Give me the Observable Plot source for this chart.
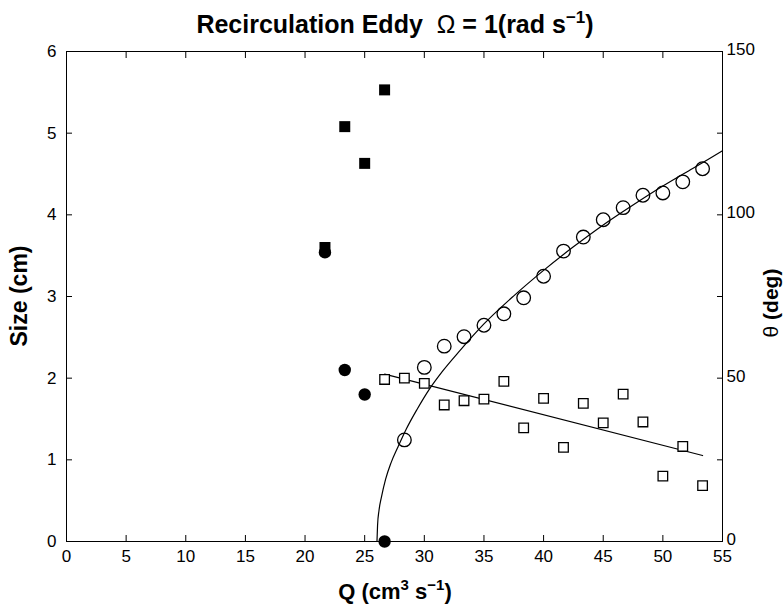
<!DOCTYPE html>
<html>
<head>
<meta charset="utf-8">
<script src="https://cdn.jsdelivr.net/npm/d3@7"></script>
<script src="https://cdn.jsdelivr.net/npm/@observablehq/plot@0.6"></script>
<style>
  html, body { margin: 0; padding: 0; background: #fff; }
  #chart svg { display: block; }
</style>
</head>
<body>
<div id="chart"></div>
<script>
// ---- data ----
// flow rate Q (cm^3 s^-1) for the filled (size) markers
const qFilled = [21.67, 23.33, 25.0, 26.67];
// filled squares: size (cm)
const sizeSquares = [3.60, 5.08, 4.63, 5.53];
// filled circles: size (cm)
const sizeCircles = [3.54, 2.10, 1.80, 0.00];

// open circles: angle theta (deg)
const qThetaCircles = [28.33, 30.0, 31.67, 33.33, 35.0, 36.67, 38.33, 40.0, 41.67, 43.33, 45.0, 46.67, 48.33, 50.0, 51.67, 53.33];
const thetaCircles = [31.1, 53.3, 59.8, 62.7, 66.2, 69.7, 74.6, 81.2, 88.9, 93.2, 98.5, 102.2, 106.0, 106.7, 110.1, 114.1];

// open squares: angle theta (deg)
const qThetaSquares = [26.67, 28.33, 30.0, 31.67, 33.33, 35.0, 36.67, 38.33, 40.0, 41.67, 43.33, 45.0, 46.67, 48.33, 50.0, 51.67, 53.33];
const thetaSquares = [49.6, 50.0, 48.4, 41.8, 43.1, 43.6, 49.0, 34.8, 43.8, 28.8, 42.3, 36.3, 45.1, 36.6, 20.0, 29.1, 17.1];

// fitted curve through the open circles
const qCurve = [26.03, 26.08, 26.2, 26.4, 26.75, 27.2, 27.8, 28.5, 29.4, 30.4, 31.5, 33.0, 35.0, 37.5, 40.0, 42.5, 45.0, 47.5, 50.0, 52.5, 55.0];
const thetaCurve = [0, 5.0, 9.5, 13.5, 19.0, 24.0, 29.0, 34.5, 40.5, 46.5, 52.0, 58.5, 66.6, 75.2, 83.0, 90.2, 96.9, 103.0, 108.8, 114.2, 119.6];

// axes
const xTicks = [0, 5, 10, 15, 20, 25, 30, 35, 40, 45, 50, 55];
const sizeTicks = [0, 1, 2, 3, 4, 5, 6];
const thetaTicks = [0, 25, 50, 75, 100, 125, 150];
const thetaLabels = [0, 50, 100, 150];
const sizeMax = 6, thetaMax = 150;
const k = sizeMax / thetaMax; // theta -> left-axis units

// ---- tables ----
const filled = qFilled.map((q, i) => ({q, sq: sizeSquares[i], ci: sizeCircles[i]}));
const circles = qThetaCircles.map((q, i) => ({q, t: thetaCircles[i]}));
const squares = qThetaSquares.map((q, i) => ({q, t: thetaSquares[i]}));
const curve = qCurve.map((q, i) => ({q, t: thetaCurve[i]}));

const font = "'Liberation Sans', Arial, Helvetica, sans-serif";
const tl = 6; // inward tick length

const svg = Plot.plot({
  width: 784,
  height: 613,
  marginLeft: 66,
  marginRight: 62,
  marginTop: 51,
  marginBottom: 72,
  style: {fontFamily: font, fontSize: "17px", color: "black", background: "white"},
  x: {domain: [0, 55]},
  y: {domain: [0, sizeMax]},
  marks: [
    Plot.line(curve, {x: "q", y: d => d.t * k, stroke: "black", strokeWidth: 1.2, curve: "monotone-x"}),
    Plot.linearRegressionY(squares, {x: "q", y: d => d.t * k, stroke: "black", strokeWidth: 1.2, ci: 0}),
    Plot.dot(squares, {x: "q", y: d => d.t * k, symbol: "square", r: 5.4, stroke: "black", strokeWidth: 1.3, fill: "white"}),
    Plot.dot(circles, {x: "q", y: d => d.t * k, symbol: "circle", r: 6.8, stroke: "black", strokeWidth: 1.3, fill: "none"}),
    Plot.dot(filled, {x: "q", y: "sq", symbol: "square", r: 6.2, fill: "black", stroke: "none"}),
    Plot.dot(filled, {x: "q", y: "ci", symbol: "circle", r: 6.2, fill: "black", stroke: "none"}),
    Plot.frame({stroke: "black", strokeWidth: 1}),
    Plot.axisX(xTicks, {anchor: "bottom", tickSize: 0, tickPadding: 8, fontSize: 17, label: null}),
    Plot.axisX(xTicks, {anchor: "bottom", tickSize: tl, dy: -tl, tickFormat: () => "", label: null}),
    Plot.axisX(xTicks, {anchor: "top", tickSize: tl, dy: tl, tickFormat: () => "", label: null}),
    Plot.axisY(sizeTicks, {anchor: "left", tickSize: 0, tickPadding: 10, fontSize: 17, tickFormat: d => String(d), label: null}),
    Plot.axisY(sizeTicks, {anchor: "left", tickSize: tl, dx: tl, tickFormat: () => "", label: null}),
    Plot.axisY(thetaTicks.map(t => t * k), {anchor: "right", tickSize: tl, dx: -tl, tickFormat: () => "", label: null}),
    Plot.axisY(thetaLabels.map(t => t * k), {anchor: "right", tickSize: 0, tickPadding: 4, fontSize: 17, dy: -2, tickFormat: d => String(Math.round(d / k)), label: null})
  ]
});

document.getElementById("chart").appendChild(svg);

// ---- titles and axis labels with superscripts ----
const s = d3.select(svg);
// title
{
  const t = s.append("text").attr("x", 395).attr("y", 33).attr("text-anchor", "middle")
    .attr("font-family", font).attr("font-size", 25).attr("font-weight", "bold").attr("fill", "black");
  t.append("tspan").text("Recirculation Eddy\u00a0\u00a0");
  t.append("tspan").attr("font-weight", "normal").text("\u03a9");
  t.append("tspan").text(" = 1(rad s");
  t.append("tspan").attr("dy", -10).attr("font-size", 17).text("\u22121");
  t.append("tspan").attr("dy", 10).text(")");
}
// x label
{
  const t = s.append("text").attr("x", 395).attr("y", 599).attr("text-anchor", "middle")
    .attr("font-family", font).attr("font-size", 22).attr("font-weight", "bold").attr("fill", "black");
  t.append("tspan").text("Q (cm");
  t.append("tspan").attr("dy", -9).attr("font-size", 15).text("3");
  t.append("tspan").attr("dy", 9).text(" s");
  t.append("tspan").attr("dy", -9).attr("font-size", 15).text("\u22121");
  t.append("tspan").attr("dy", 9).text(")");
}
// left y label
s.append("text").attr("transform", "translate(27,296) rotate(-90)").attr("text-anchor", "middle")
  .attr("font-family", font).attr("font-size", 23).attr("font-weight", "bold").attr("fill", "black")
  .text("Size (cm)");
// right y label
{
  const t = s.append("text").attr("transform", "translate(778,303) rotate(-90)").attr("text-anchor", "middle")
    .attr("font-family", font).attr("font-size", 21).attr("font-weight", "bold").attr("fill", "black");
  t.append("tspan").attr("font-weight", "normal").text("\u03b8");
  t.append("tspan").text(" (deg)");
}
</script>
</body>
</html>
